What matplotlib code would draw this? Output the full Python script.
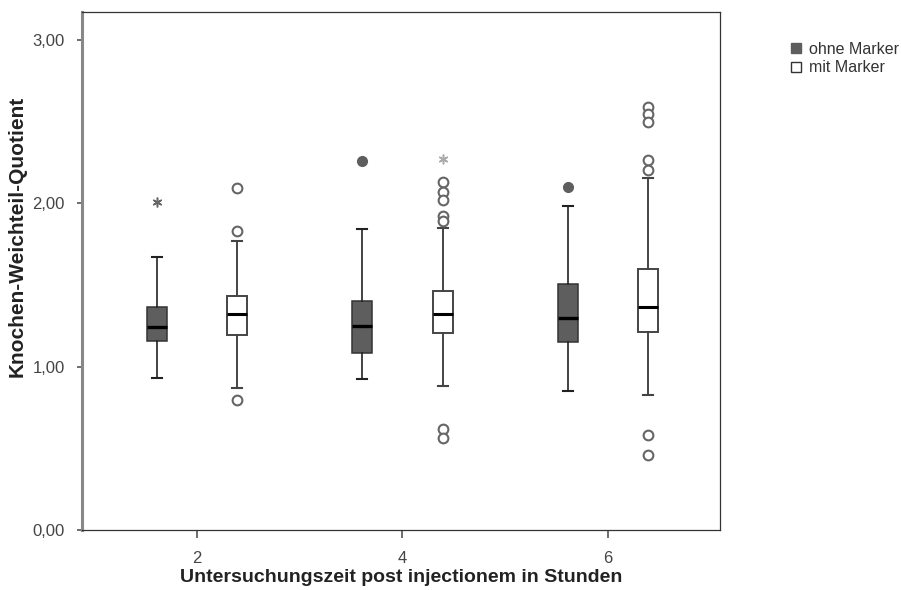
import numpy as np
import matplotlib.pyplot as plt

plt.rcParams['font.family'] = ['Liberation Sans', 'DejaVu Sans']

hours = [2, 4, 6]
groups = ["ohne Marker", "mit Marker"]

# box statistics (per hour)
ohne_whislo = [0.93, 0.925, 0.85]
ohne_q1 = [1.155, 1.085, 1.152]
ohne_med = [1.24, 1.246, 1.295]
ohne_q3 = [1.366, 1.40, 1.508]
ohne_whishi = [1.67, 1.84, 1.985]
ohne_fliers = [[], [2.26], [2.10]]
ohne_extremes = [[2.01], [], []]

mit_whislo = [0.87, 0.88, 0.828]
mit_q1 = [1.195, 1.203, 1.21]
mit_med = [1.32, 1.32, 1.366]
mit_q3 = [1.43, 1.463, 1.596]
mit_whishi = [1.77, 1.85, 2.154]
mit_fliers = [[2.09, 1.83, 0.797],
              [2.13, 2.07, 2.02, 1.92, 1.89, 0.62, 0.565],
              [2.59, 2.545, 2.495, 2.266, 2.205, 0.584, 0.457]]
mit_extremes = [[], [2.27], []]

x_pos = np.arange(len(hours))
offset = 0.196
box_w = 0.097

fig = plt.figure(figsize=(9.01, 5.90), dpi=100)
ax = fig.add_axes([0.091, 0.1017, 0.708, 0.878])


def make_stats(lo, q1, med, q3, hi, fl):
    return [dict(whislo=lo[i], q1=q1[i], med=med[i], q3=q3[i], whishi=hi[i],
                 fliers=fl[i]) for i in range(len(lo))]


dark = '#5e5e5e'
ax.bxp(make_stats(ohne_whislo, ohne_q1, ohne_med, ohne_q3, ohne_whishi, ohne_fliers),
       positions=x_pos - offset, widths=box_w, capwidths=box_w * 0.5,
       patch_artist=True, manage_ticks=False,
       boxprops=dict(facecolor=dark, edgecolor='#333333', linewidth=1.1),
       medianprops=dict(color='black', linewidth=2.4),
       whiskerprops=dict(color='#222222', linewidth=1.2),
       capprops=dict(color='#222222', linewidth=1.5),
       flierprops=dict(marker='o', markerfacecolor='#5e5e5e',
                       markeredgecolor='#5e5e5e', markersize=7))

ax.bxp(make_stats(mit_whislo, mit_q1, mit_med, mit_q3, mit_whishi, mit_fliers),
       positions=x_pos + offset, widths=box_w, capwidths=box_w * 0.5,
       patch_artist=True, manage_ticks=False,
       boxprops=dict(facecolor='white', edgecolor='#444444', linewidth=1.4),
       medianprops=dict(color='black', linewidth=2.2),
       whiskerprops=dict(color='#444444', linewidth=1.4),
       capprops=dict(color='#444444', linewidth=1.5),
       flierprops=dict(marker='o', markerfacecolor='white',
                       markeredgecolor='#666666', markeredgewidth=1.5,
                       markersize=7))

# extreme values drawn as asterisks
for i in range(len(hours)):
    for v in ohne_extremes[i]:
        ax.plot(x_pos[i] - offset, v, marker=(6, 2, 0), color='#666666',
                markersize=7, markeredgewidth=1.1, linestyle='none')
    for v in mit_extremes[i]:
        ax.plot(x_pos[i] + offset, v, marker=(6, 2, 0), color='#aaaaaa',
                markersize=7, markeredgewidth=1.1, linestyle='none')

ax.set_xlim(-0.56, 2.545)
ax.set_ylim(0, 3.17)
ax.set_xticks(x_pos)
ax.set_xticklabels([str(h) for h in hours], color='#444444', fontsize=12)
ax.set_yticks([0, 1, 2, 3])
ax.set_yticklabels(['0,00', '1,00', '2,00', '3,00'], color='#444444', fontsize=12)
ax.tick_params(axis='x', length=6, width=1.2, color='#555555', pad=9)
ax.tick_params(axis='y', length=3.5, width=1.2, color='#555555', pad=9)

for s in ax.spines.values():
    s.set_color('#333333')
    s.set_linewidth(0.9)
ax.spines['left'].set_color('#888888')
ax.spines['left'].set_linewidth(2.2)

ax.set_xlabel('Untersuchungszeit post injectionem in Stunden',
              fontsize=14, fontweight='bold', color='#222222', labelpad=2)
ax.set_ylabel('Knochen-Weichteil-Quotient', fontsize=15,
              fontweight='bold', color='#222222')
ax.yaxis.set_label_coords(-0.087, 0.566)

# legend
handles = [plt.Line2D([], [], marker='s', linestyle='none', markersize=7,
                      markerfacecolor=dark, markeredgecolor=dark),
           plt.Line2D([], [], marker='s', linestyle='none', markersize=7,
                      markerfacecolor='white', markeredgecolor='#333333')]
fig.legend(handles, groups, loc='upper left', bbox_to_anchor=(0.869, 0.943),
           frameon=False, fontsize=11.5, handlelength=0.6, handletextpad=0.5,
           labelspacing=0.22, borderpad=0, labelcolor='#333333')

fig.savefig('out.png', dpi=100)
